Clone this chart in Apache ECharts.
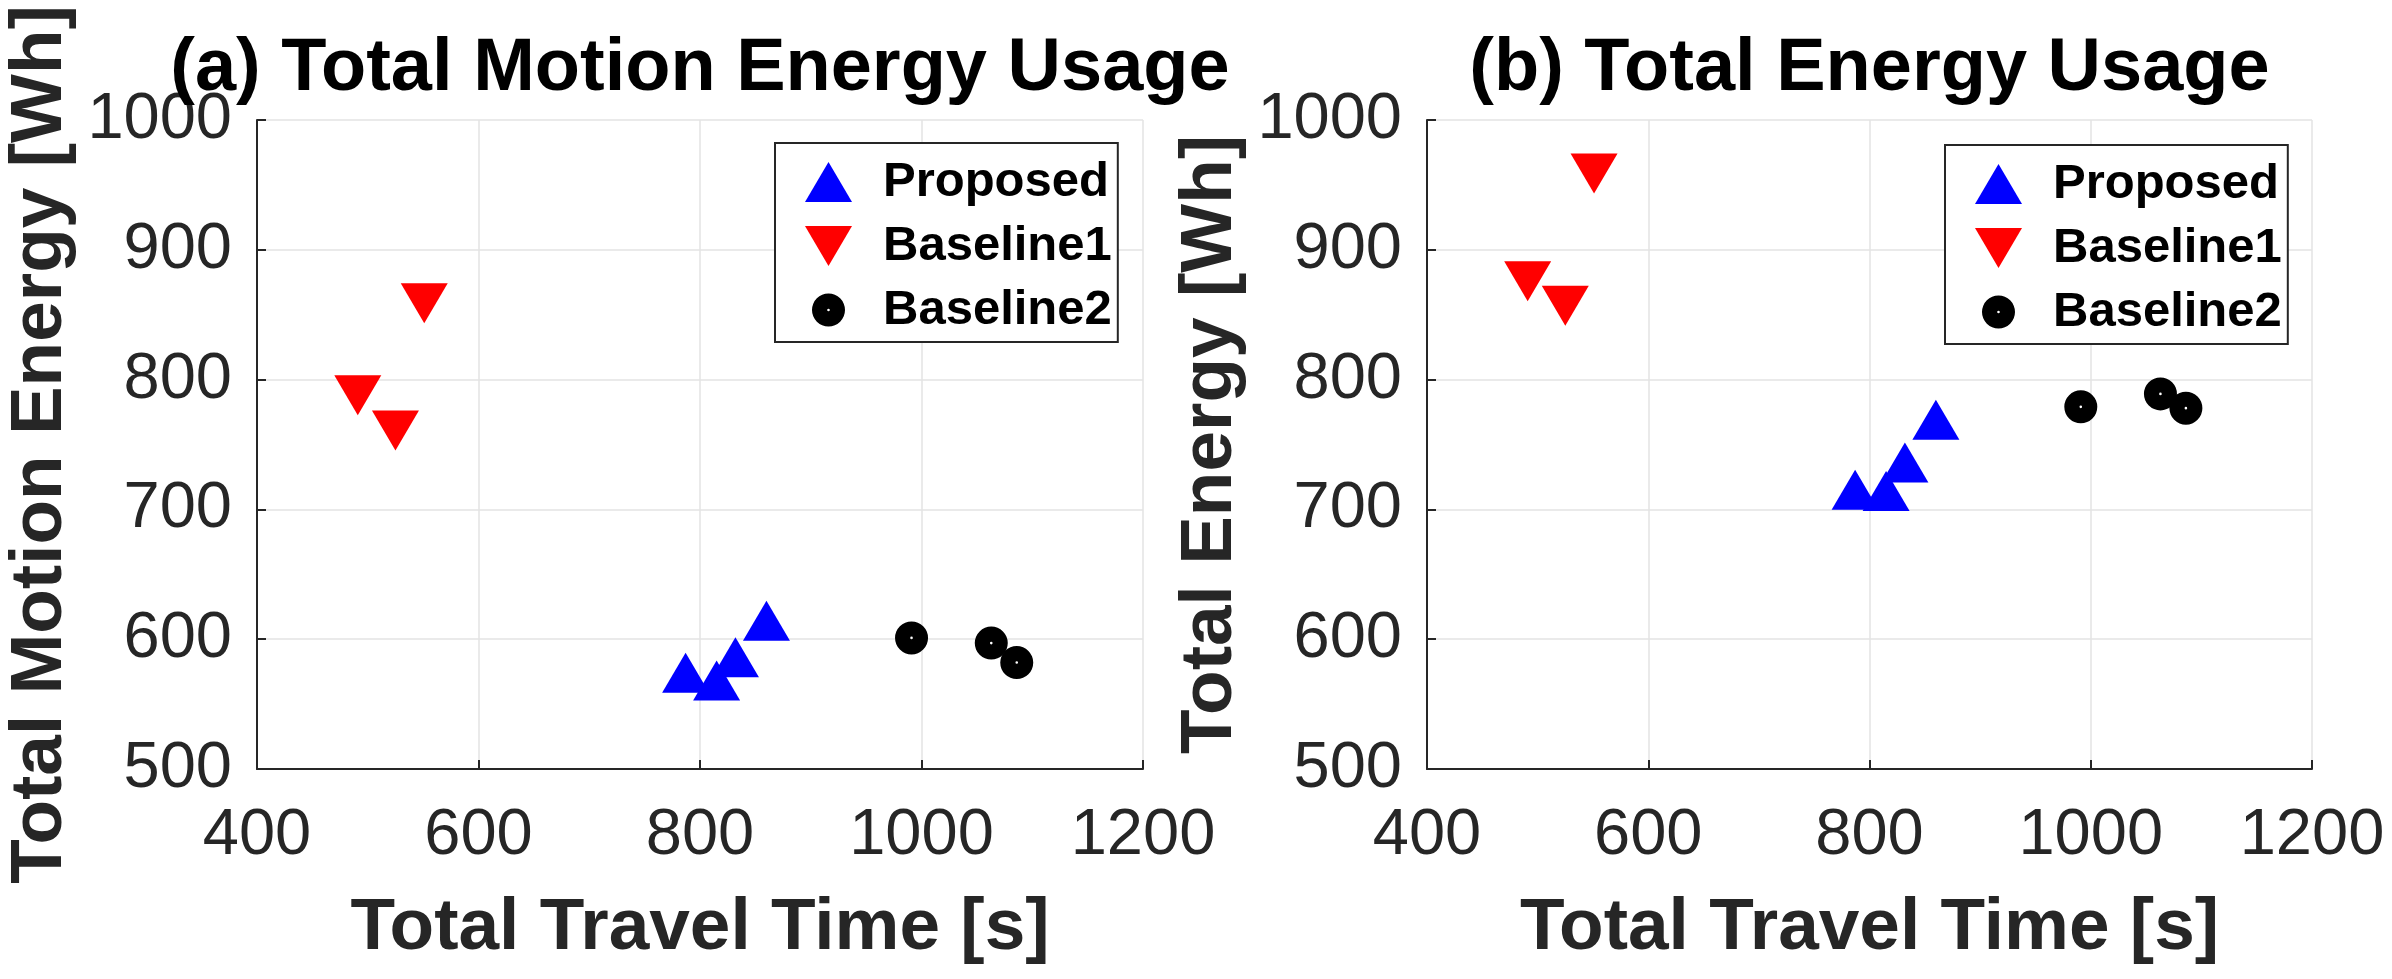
<!DOCTYPE html>
<html><head><meta charset="utf-8">
<script src="https://cdn.jsdelivr.net/npm/echarts@6/dist/echarts.min.js"></script>
<style>html,body{margin:0;padding:0;background:#fff}#c{width:2392px;height:979px}</style>
</head><body><div id="c"></div>
<script>
// ---- data ----
const seriesNames = ['Proposed', 'Baseline1', 'Baseline2'];
const titles = ['(a) Total Motion Energy Usage', '(b) Total Energy Usage'];
const xAxisName = 'Total Travel Time [s]';
const yAxisNames = ['Total Motion Energy [Wh]', 'Total Energy [Wh]'];
const xTicks = [400, 600, 800, 1000, 1200];
const yTicks = [500, 600, 700, 800, 900, 1000];

const proposedTime   = [787, 815, 832, 860];
const proposedMotion = [569, 563, 581, 609];
const proposedTotal  = [710, 709, 731, 764];

const baseline1Time   = [491, 525, 551];
const baseline1Motion = [793, 766, 864];
const baseline1Total  = [881, 862, 964];

const baseline2Time   = [991, 1063, 1086];
const baseline2Motion = [601, 597, 582];
const baseline2Total  = [779, 789, 778];

// ---- chart ----
const FONT = "'Liberation Sans', Arial, Helvetica, sans-serif";
const AX = '#262626';
const grids = [
  {left: 257, top: 120, width: 886, height: 649},
  {left: 1427, top: 120, width: 885, height: 649}
];
const legendPos = [[775, 143], [1945, 145]];
const symUp = 'path://M23.5,0 L47,40 L0,40 Z';
const symDown = 'path://M0,0 L47,0 L23.5,40 Z';
const symCirc = 'path://M0,0 M47,40 M40,20 A16.5,16.5 0 1,1 7,20 A16.5,16.5 0 1,1 40,20 Z M24.8,20 A1.3,1.3 0 1,0 22.2,20 A1.3,1.3 0 1,0 24.8,20 Z';
const markers = [
  {symbol: symUp, offset: [0, -6.67], color: '#0000ff'},
  {symbol: symDown, offset: [0, 6.67], color: '#ff0000'},
  {symbol: symCirc, offset: [0, 0], color: '#000000'}
];
const times = [proposedTime, baseline1Time, baseline2Time];
const values = [
  [proposedMotion, baseline1Motion, baseline2Motion],
  [proposedTotal, baseline1Total, baseline2Total]
];
function zip(a, b) { return a.map((v, i) => [v, b[i]]); }
const plain = v => String(v);

const xAxes = grids.map((g, i) => ({
  type: 'value', gridIndex: i,
  min: xTicks[0], max: xTicks[xTicks.length - 1], interval: xTicks[1] - xTicks[0],
  name: xAxisName, nameLocation: 'middle', nameGap: 123,
  nameTextStyle: {fontFamily: FONT, fontSize: 73, fontWeight: 'bold', color: AX},
  axisLine: {show: true, onZero: false, lineStyle: {color: AX, width: 2}},
  axisTick: {show: true, inside: true, length: 9, lineStyle: {color: AX, width: 2}},
  axisLabel: {margin: 35, fontFamily: FONT, fontSize: 65, color: AX, formatter: plain},
  splitLine: {show: true, lineStyle: {color: '#e3e3e3', width: 1.5}}
}));
const yAxes = grids.map((g, i) => ({
  type: 'value', gridIndex: i,
  min: yTicks[0], max: yTicks[yTicks.length - 1], interval: yTicks[1] - yTicks[0],
  name: yAxisNames[i], nameLocation: 'middle', nameGap: 180,
  nameTextStyle: {fontFamily: FONT, fontSize: 73, fontWeight: 'bold', color: AX},
  axisLine: {show: true, onZero: false, lineStyle: {color: AX, width: 2}},
  axisTick: {show: true, inside: true, length: 9, lineStyle: {color: AX, width: 2}},
  axisLabel: {margin: 25, fontFamily: FONT, fontSize: 65, color: AX, formatter: plain},
  splitLine: {show: true, lineStyle: {color: '#e3e3e3', width: 1.5}}
}));

const series = [];
grids.forEach((g, i) => {
  seriesNames.forEach((n, k) => {
    series.push({
      type: 'scatter', name: n, xAxisIndex: i, yAxisIndex: i,
      data: zip(times[k], values[i][k]),
      symbol: markers[k].symbol, symbolSize: [47, 40], symbolOffset: markers[k].offset,
      itemStyle: {color: markers[k].color, opacity: 1},
      emphasis: {disabled: true}, silent: true
    });
  });
});

const legends = grids.map((g, i) => ({
  orient: 'vertical', left: legendPos[i][0], top: legendPos[i][1],
  data: seriesNames.map((n, k) => ({name: n, icon: markers[k].symbol})),
  itemWidth: 47, itemHeight: 40, itemGap: 15, symbolKeepAspect: true,
  padding: [14.5, 6, 7.5, 30], borderColor: AX, borderWidth: 2, backgroundColor: '#fff',
  selectedMode: false,
  textStyle: {fontFamily: FONT, fontSize: 49, fontWeight: 'bold', color: '#000', lineHeight: 40, padding: [0, 0, 0, 26]}
}));

const titleOpts = grids.map((g, i) => ({
  text: titles[i], left: g.left + g.width / 2, top: 33, textAlign: 'center', padding: 0,
  textStyle: {fontFamily: FONT, fontSize: 74, fontWeight: 'bold', color: '#000'}
}));

const chart = echarts.init(document.getElementById('c'));
chart.setOption({
  animation: false,
  backgroundColor: '#fff',
  title: titleOpts,
  grid: grids,
  xAxis: xAxes,
  yAxis: yAxes,
  legend: legends,
  series: series
});
</script></body></html>
